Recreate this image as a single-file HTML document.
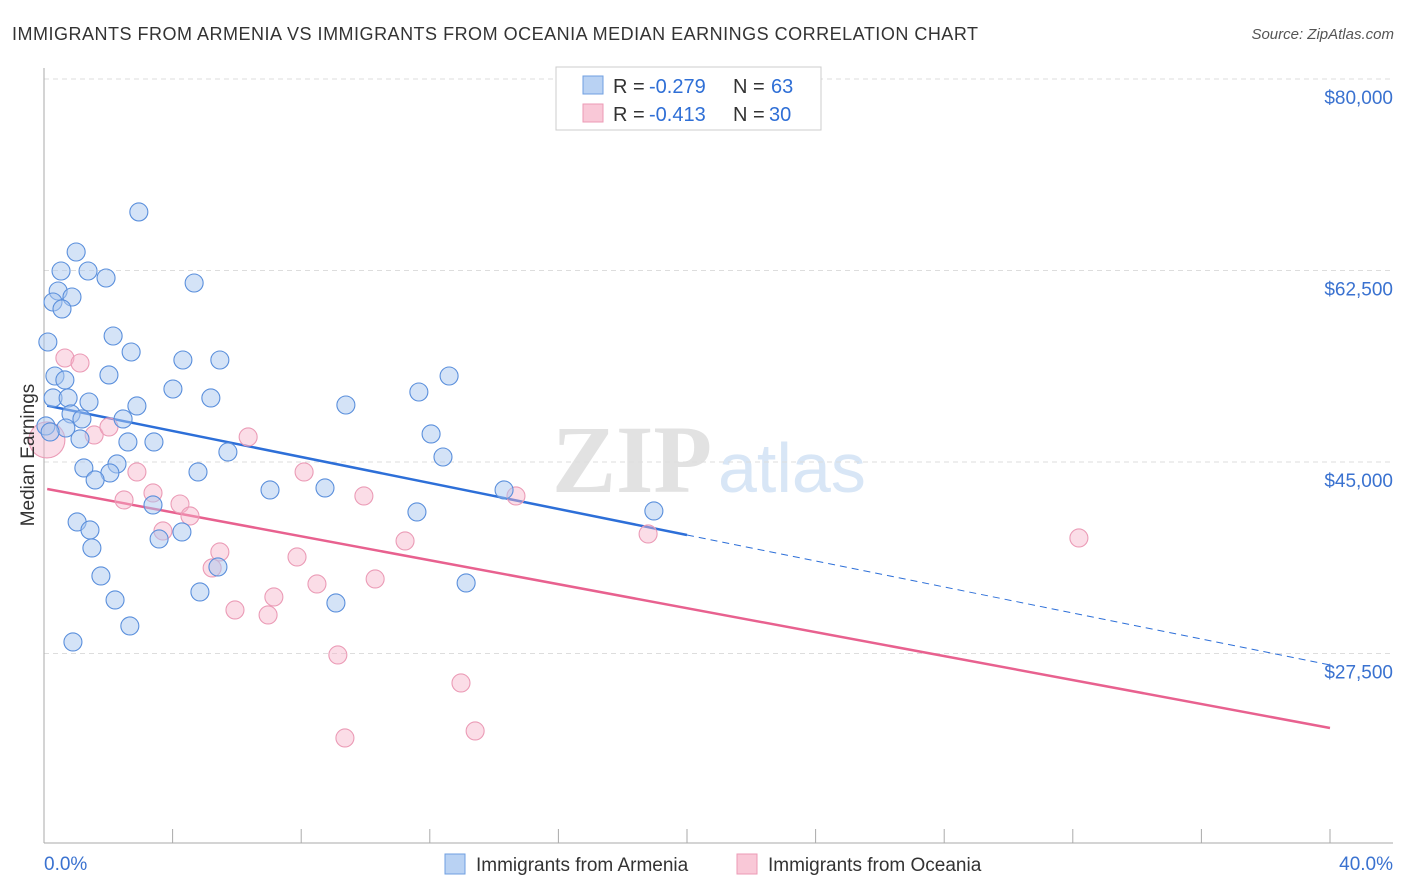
<!DOCTYPE html>
<html><head><meta charset="utf-8"><style>
body{margin:0;background:#fff;font-family:"Liberation Sans",sans-serif}
svg{display:block}
</style></head><body>
<svg id="c" width="1406" height="892" xmlns="http://www.w3.org/2000/svg">
<text x="12" y="40" font-size="18" fill="#333" textLength="966">IMMIGRANTS FROM ARMENIA VS IMMIGRANTS FROM OCEANIA MEDIAN EARNINGS CORRELATION CHART</text>
<text x="1394" y="39" font-size="15" fill="#555" font-style="italic" text-anchor="end">Source: ZipAtlas.com</text>
<g>
<text x="552" y="492" font-size="96" fill="#e2e2e2" font-family="Liberation Serif,serif" font-weight="bold">ZIP</text>
<text x="718" y="492" font-size="70" fill="#d8e6f6">atlas</text>
</g>
<g id="grid"></g>
<g id="axes"></g>
<g id="lines"></g>
<g id="pts"></g>
<text transform="translate(34,455) rotate(-90)" font-size="19" fill="#333" text-anchor="middle">Median Earnings</text>
<g>
<rect x="556" y="67" width="265" height="63" fill="#fff" stroke="#ccc"/>
<rect x="583" y="76" width="20" height="18" fill="#b9d2f3" stroke="#6f9fe0"/>
<rect x="583" y="104" width="20" height="18" fill="#f9c8d7" stroke="#ec9ab5"/>
<text x="613" y="93" font-size="20" fill="#333">R =</text>
<text x="649" y="93" font-size="20" fill="#2f6fd6">-0.279</text>
<text x="733" y="93" font-size="20" fill="#333">N =</text>
<text x="771" y="93" font-size="20" fill="#2f6fd6">63</text>
<text x="613" y="121" font-size="20" fill="#333">R =</text>
<text x="649" y="121" font-size="20" fill="#2f6fd6">-0.413</text>
<text x="733" y="121" font-size="20" fill="#333">N =</text>
<text x="769" y="121" font-size="20" fill="#2f6fd6">30</text>
</g>
<g>
<rect x="445" y="854" width="20" height="20" fill="#b9d2f3" stroke="#6f9fe0"/>
<text x="476" y="871" font-size="19" fill="#333">Immigrants from Armenia</text>
<rect x="737" y="854" width="20" height="20" fill="#f9c8d7" stroke="#ec9ab5"/>
<text x="768" y="871" font-size="19" fill="#333">Immigrants from Oceania</text>
</g>
</svg>
<script>
const yTicks=[80000,62500,45000,27500];
const yTickLabels=["$80,000","$62,500","$45,000","$27,500"];
const xTickVals=[0,4,8,12,16,20,24,28,32,36,40];
const blueX=[2.95,1.00,0.53,1.37,1.93,4.67,0.44,0.87,0.28,0.56,0.12,2.15,2.71,4.32,5.47,0.34,2.02,0.65,4.01,5.19,0.28,0.75,1.40,2.89,9.39,11.66,12.60,0.84,1.18,2.46,0.68,0.06,1.12,2.61,3.42,5.72,12.04,12.41,2.27,1.24,2.05,4.79,1.59,7.03,8.74,14.31,3.39,11.60,18.97,1.03,1.43,4.29,3.58,1.49,5.41,1.77,13.13,4.85,2.21,9.08,2.67,0.90,0.19];
const blueY=[67850,64191,62455,62455,61815,61358,60627,60079,59622,58983,55967,56515,55053,54322,54322,52860,52952,52495,51672,50850,50850,50850,50484,50119,50210,51398,52860,49388,48931,48931,48108,48291,47103,46829,46829,45915,47560,45458,44819,44453,43996,44088,43357,42443,42626,42443,41072,40432,40524,39519,38788,38605,37965,37143,35407,34584,33944,33122,32391,32117,30015,28553,47743];
const pinkX=[0.65,1.12,0.09,1.56,2.02,6.35,2.89,8.09,2.49,3.39,4.23,4.54,9.95,14.68,3.70,5.47,5.23,7.87,11.23,18.79,32.19,10.30,8.49,7.15,5.94,6.97,9.14,12.97,13.41,9.36];
const pinkY=[54505,54048,47012,47469,48200,47286,44088,44088,41529,42169,41163,40067,41895,41895,38696,36777,35315,36320,37782,38422,38057,34310,33853,32665,31477,31020,27365,24806,20420,19781];
const blueTrend=[50210,26451];
const pinkTrend=[42534,20694];
const blueSolidEnd=20;
const NS="http://www.w3.org/2000/svg";
const xs=v=>44+v/40*1286;
const ys=v=>79+(80000-v)/17500*191.5;
function mk(t,a,p){const e=document.createElementNS(NS,t);for(const k in a)e.setAttribute(k,a[k]);document.getElementById(p).appendChild(e);return e;}
yTicks.forEach((v,i)=>{
 const l=mk('line',{x1:44,x2:1393,y1:ys(v),y2:ys(v),stroke:'#ddd','stroke-dasharray':'5,4'},'grid');
 
 
 const t=mk('text',{x:1393,y:ys(v)+25,'font-size':19,fill:'#3a72d0','text-anchor':'end'},'grid');
 t.textContent=yTickLabels[i];
 
 
});
let a=mk('line',{x1:44,x2:44,y1:68,y2:843,stroke:'#aaa'},'axes');


a=mk('line',{x1:44,x2:1393,y1:843,y2:843,stroke:'#aaa'},'axes');


xTickVals.forEach(v=>{
 const t=mk('line',{x1:xs(v),x2:xs(v),y1:829,y2:843,stroke:'#aaa'},'axes');
 
 
});
let t=mk('text',{x:44,y:870,'font-size':19,fill:'#3a72d0'},'axes');t.textContent='0.0%';


t=mk('text',{x:1393,y:870,'font-size':19,fill:'#3a72d0','text-anchor':'end'},'axes');t.textContent='40.0%';


const bv=x=>blueTrend[0]+(blueTrend[1]-blueTrend[0])*x/40;
let L=mk('line',{x1:xs(0.1),y1:ys(bv(0.1)),x2:xs(blueSolidEnd),y2:ys(bv(blueSolidEnd)),stroke:'#2d6fd8','stroke-width':2.5},'lines');


L=mk('line',{x1:xs(blueSolidEnd),y1:ys(bv(blueSolidEnd)),x2:xs(40),y2:ys(bv(40)),stroke:'#2d6fd8','stroke-width':1,'stroke-dasharray':'7,5'},'lines');


L=mk('line',{x1:xs(0.1),y1:ys(pinkTrend[0]),x2:xs(40),y2:ys(pinkTrend[1]),stroke:'#e8618f','stroke-width':2.5},'lines');


pinkX.forEach((x,i)=>{
 const c=mk('circle',{cx:xs(x),cy:ys(pinkY[i]),r:i==2?18:9,fill:'rgba(246,180,202,0.45)',stroke:'#eb9bb6','stroke-width':1.1},'pts');
 
 
});
blueX.forEach((x,i)=>{
 const c=mk('circle',{cx:xs(x),cy:ys(blueY[i]),r:9,fill:'rgba(170,200,240,0.5)',stroke:'#5a8fdc','stroke-width':1.1},'pts');
 
 
});
</script>
</body></html>
